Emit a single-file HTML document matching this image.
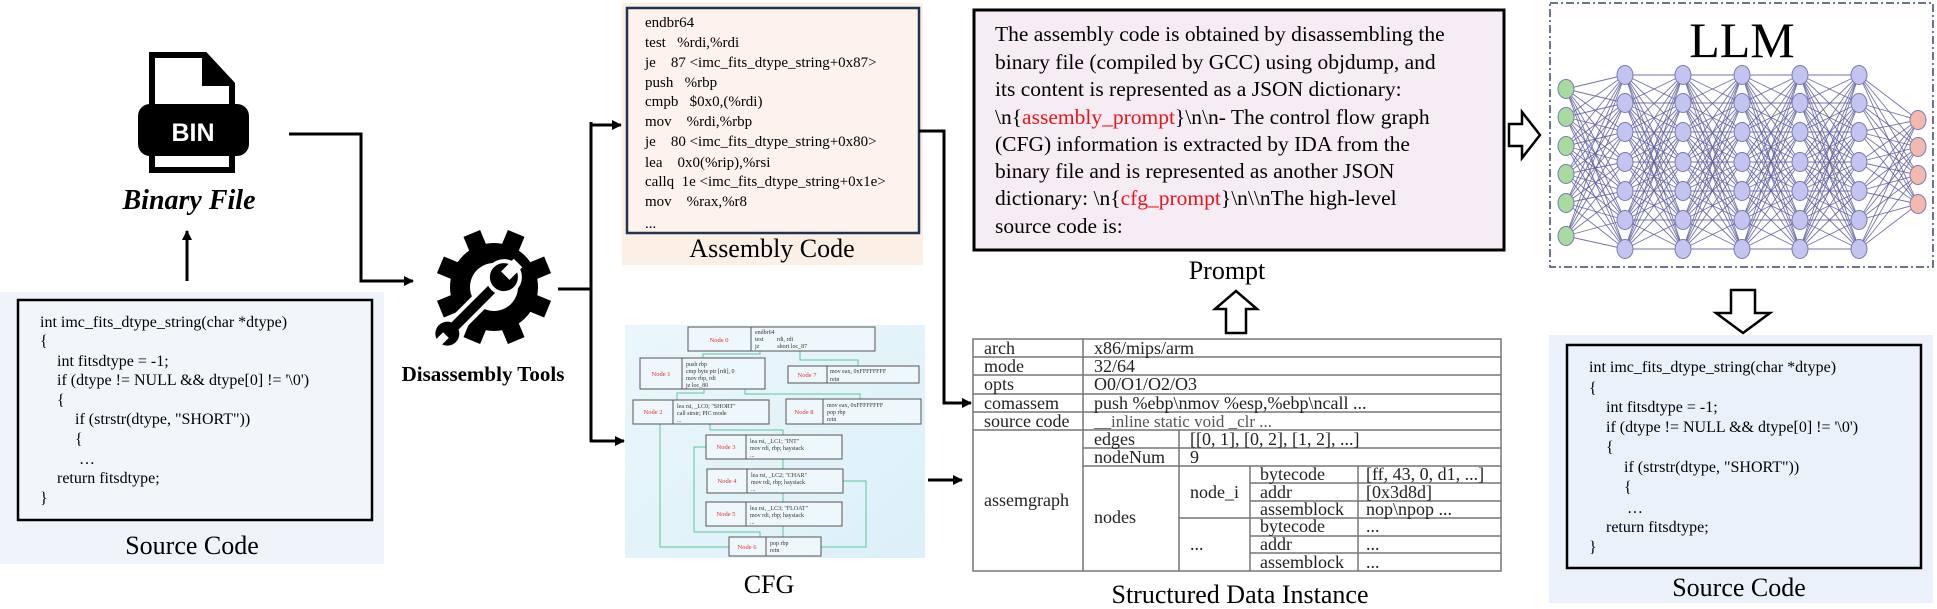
<!DOCTYPE html>
<html><head><meta charset="utf-8"><style>
html,body{margin:0;padding:0;background:#fff;}
svg{display:block;}
text{font-family:"Liberation Serif",serif;}
.s{font-family:"Liberation Sans",sans-serif;}
</style></head><body>
<svg id="sv" width="1937" height="609" viewBox="0 0 1937 609" xmlns="http://www.w3.org/2000/svg">
<defs>
<marker id="ah" markerWidth="10" markerHeight="10" refX="9" refY="5" orient="auto" markerUnits="userSpaceOnUse"><path d="M0,0 L10,5 L0,10 z" fill="#000"/></marker>
</defs>
<!-- left source code -->
<rect x="0" y="292" width="384" height="272" fill="#eef4f9"/>
<rect x="18" y="300" width="354" height="220" fill="#f1f6fa" stroke="#000" stroke-width="2.5"/>
<g font-size="16">
<text x="40" y="327">int imc_fits_dtype_string(char *dtype)</text>
<text x="40" y="346">{</text>
<text x="57" y="366">int fitsdtype = -1;</text>
<text x="57" y="385">if (dtype != NULL &amp;&amp; dtype[0] != '\0')</text>
<text x="57" y="405">{</text>
<text x="75" y="424">if (strstr(dtype, "SHORT"))</text>
<text x="75" y="444">{</text>
<text x="79" y="464">…</text>
<text x="57" y="483">return fitsdtype;</text>
<text x="40" y="503">}</text>
</g>
<text x="192" y="554" font-size="26" text-anchor="middle">Source Code</text>
<!-- BIN icon -->
<path d="M152,55 L205,55 L232,84 L232,170 L152,170 Z" fill="#fff" stroke="#000" stroke-width="6"/>
<path d="M202,55 L232,86 L202,86 Z" fill="#000"/>
<rect x="138" y="104" width="111" height="52" rx="12" fill="#000"/>
<text x="193" y="141" class="s" font-size="25" font-weight="bold" fill="#fff" text-anchor="middle" font-family="Liberation Sans">BIN</text>
<text x="189" y="209" font-family="Liberation Sans" font-size="28" font-weight="bold" font-style="italic" text-anchor="middle">Binary File</text>
<line x1="187" y1="281" x2="187" y2="231" stroke="#000" stroke-width="3" marker-end="url(#ah)"/>
<polyline points="289,134 361,134 361,281 413,281" fill="none" stroke="#000" stroke-width="3" marker-end="url(#ah)"/>
<!-- gear -->
<g id="gear" transform="translate(494,287)"></g>
<text x="483" y="381" font-size="21" font-weight="bold" text-anchor="middle">Disassembly Tools</text>
<polyline points="558,289 591,289" fill="none" stroke="#000" stroke-width="3"/>
<line x1="591" y1="122" x2="591" y2="442" stroke="#000" stroke-width="3"/>
<polyline points="590,125 621,125" fill="none" stroke="#000" stroke-width="3" marker-end="url(#ah)"/>
<polyline points="590,441 624,441" fill="none" stroke="#000" stroke-width="3" marker-end="url(#ah)"/>
<!-- assembly -->
<rect x="622" y="3" width="301" height="262" fill="#fcefe6"/>
<rect x="627" y="8" width="292" height="225" fill="#fdf2ec" stroke="#1f3352" stroke-width="2.5"/>
<g font-size="15">
<text x="645" y="27">endbr64</text>
<text x="645" y="47">test&#160;&#160; %rdi,%rdi</text>
<text x="645" y="67">je&#160;&#160;&#160; 87 &lt;imc_fits_dtype_string+0x87&gt;</text>
<text x="645" y="87">push&#160;&#160; %rbp</text>
<text x="645" y="106">cmpb&#160;&#160; $0x0,(%rdi)</text>
<text x="645" y="126">mov&#160;&#160;&#160; %rdi,%rbp</text>
<text x="645" y="146">je&#160;&#160;&#160; 80 &lt;imc_fits_dtype_string+0x80&gt;</text>
<text x="645" y="167">lea&#160;&#160;&#160; 0x0(%rip),%rsi</text>
<text x="645" y="186">callq&#160; 1e &lt;imc_fits_dtype_string+0x1e&gt;</text>
<text x="645" y="206">mov&#160;&#160;&#160; %rax,%r8</text>
<text x="645" y="228">...</text>
</g>
<text x="772" y="257" font-size="26" text-anchor="middle">Assembly Code</text>
<polyline points="919,131 944,131 944,403 971,403" fill="none" stroke="#000" stroke-width="3" marker-end="url(#ah)"/>
<!-- CFG -->
<defs><linearGradient id="cg" x1="0" y1="0" x2="1" y2="1"><stop offset="0" stop-color="#eaf6fb"/><stop offset="1" stop-color="#dcf0fa"/></linearGradient></defs>
<rect x="625" y="325" width="300" height="233" fill="url(#cg)"/>
<g stroke="#5cc99a" stroke-width="1" fill="none">
<polyline points="760,351 760,354 703,354 703,358"/>
<polyline points="800,351 800,360 858,360 858,366"/>
<polyline points="704,389 704,393 677,393 677,400"/>
<polyline points="745,389 745,394 860,394 860,399"/>
<polyline points="710,424 710,430 783,430 783,435"/>
<polyline points="660,424 660,547 729,547"/>
<polyline points="783,459 783,469"/>
<polyline points="783,493 783,502"/>
<polyline points="783,526 783,537"/>
<polyline points="706,447 694,447 694,532 760,532 760,537"/>
<polyline points="843,481 866,481 866,547 821,547"/>
</g>
<g stroke="#555" stroke-width="1" fill="#eef7fb">
<rect x="688" y="327" width="187" height="24"/><line x1="751" y1="327" x2="751" y2="351"/>
<rect x="640" y="358" width="125" height="31"/><line x1="682" y1="358" x2="682" y2="389"/>
<rect x="788" y="366" width="131" height="17"/><line x1="827" y1="366" x2="827" y2="383"/>
<rect x="633" y="400" width="136" height="24"/><line x1="673" y1="400" x2="673" y2="424"/>
<rect x="786" y="399" width="135" height="25"/><line x1="823" y1="399" x2="823" y2="424"/>
<rect x="706" y="435" width="136" height="24"/><line x1="746" y1="435" x2="746" y2="459"/>
<rect x="707" y="469" width="136" height="24"/><line x1="747" y1="469" x2="747" y2="493"/>
<rect x="706" y="502" width="136" height="24"/><line x1="746" y1="502" x2="746" y2="526"/>
<rect x="729" y="537" width="92" height="19"/><line x1="766" y1="537" x2="766" y2="556"/>
</g>
<g font-size="6.5" fill="#e03030" text-anchor="middle">
<text x="719" y="342">Node 0</text><text x="661" y="376">Node 1</text><text x="807" y="377">Node 7</text>
<text x="653" y="414">Node 2</text><text x="804" y="414">Node 8</text><text x="726" y="449">Node 3</text>
<text x="727" y="483">Node 4</text><text x="726" y="516">Node 5</text><text x="747" y="549">Node 6</text>
</g>
<g font-size="6" fill="#333">
<text x="755" y="334">endbr64</text><text x="755" y="341">test&#160;&#160;&#160;&#160;&#160;&#160;&#160;&#160; rdi, rdi</text><text x="755" y="348">jz&#160;&#160;&#160;&#160;&#160;&#160;&#160;&#160;&#160;&#160;&#160; short loc_87</text>
<text x="686" y="366">push rbp</text><text x="686" y="373">cmp byte ptr [rdi], 0</text><text x="686" y="380">mov rbp, rdi</text><text x="686" y="387">jz loc_80</text>
<text x="830" y="373">mov eax, 0xFFFFFFFF</text><text x="830" y="381">retn</text>
<text x="677" y="408">lea rsi, _LC0; "SHORT"</text><text x="677" y="415">call strstr; PIC mode</text><text x="677" y="422">...</text>
<text x="827" y="407">mov eax, 0xFFFFFFFF</text><text x="827" y="414">pop rbp</text><text x="827" y="421">retn</text>
<text x="750" y="443">lea rsi, _LC1; "INT"</text><text x="750" y="450">mov rdi, rbp; haystack</text><text x="750" y="457">...</text>
<text x="751" y="477">lea rsi, _LC2; "CHAR"</text><text x="751" y="484">mov rdi, rbp; haystack</text><text x="751" y="491">...</text>
<text x="750" y="510">lea rsi, _LC3; "FLOAT"</text><text x="750" y="517">mov rdi, rbp; haystack</text><text x="750" y="524">...</text>
<text x="770" y="545">pop rbp</text><text x="770" y="552">retn</text>
</g>
<text x="769" y="593" font-size="26" text-anchor="middle">CFG</text>
<line x1="928" y1="480" x2="962" y2="480" stroke="#000" stroke-width="3" marker-end="url(#ah)"/>
<!-- Prompt -->
<rect x="974" y="10" width="530" height="240" fill="#f6ecf4" stroke="#000" stroke-width="3"/>
<g font-size="21.5">
<text x="995" y="41">The assembly code is obtained by disassembling the</text>
<text x="995" y="69">binary file (compiled by GCC) using objdump, and</text>
<text x="995" y="96">its content is represented as a JSON dictionary:</text>
<text x="995" y="124">\n{<tspan fill="#e8141c">assembly_prompt</tspan>}\n\n- The control flow graph</text>
<text x="995" y="151">(CFG) information is extracted by IDA from the</text>
<text x="995" y="178">binary file and is represented as another JSON</text>
<text x="995" y="205">dictionary: \n{<tspan fill="#e8141c">cfg_prompt</tspan>}\n\\nThe high-level</text>
<text x="995" y="233">source code is:</text>
</g>
<text x="1227" y="279" font-size="26" text-anchor="middle">Prompt</text>
<path d="M1236,291 L1257,309 L1246,309 L1246,333 L1226,333 L1226,309 L1215,309 Z" fill="#fff" stroke="#000" stroke-width="2.5"/>
<path d="M1540,135 L1522,112 L1522,124 L1509,124 L1509,146 L1522,146 L1522,158 Z" fill="#fff" stroke="#000" stroke-width="2.5"/>
<!-- table -->
<g stroke="#777" stroke-width="1.5" fill="none">
<rect x="973" y="339" width="528" height="232"/>
<line x1="973" y1="357" x2="1501" y2="357"/><line x1="973" y1="375" x2="1501" y2="375"/>
<line x1="973" y1="394" x2="1501" y2="394"/><line x1="973" y1="412" x2="1501" y2="412"/>
<line x1="973" y1="430" x2="1501" y2="430"/>
<line x1="1083" y1="339" x2="1083" y2="571"/>
<line x1="1083" y1="448" x2="1501" y2="448"/><line x1="1083" y1="466" x2="1501" y2="466"/>
<line x1="1179" y1="430" x2="1179" y2="571"/>
<line x1="1250" y1="466" x2="1250" y2="571"/>
<line x1="1358" y1="466" x2="1358" y2="571"/>
<line x1="1179" y1="518" x2="1501" y2="518"/>
<line x1="1250" y1="483" x2="1501" y2="483"/><line x1="1250" y1="501" x2="1501" y2="501"/>
<line x1="1250" y1="536" x2="1501" y2="536"/><line x1="1250" y1="553" x2="1501" y2="553"/>
</g>
<g font-size="18" fill="#222">
<text x="984" y="354">arch</text><text x="1094" y="354">x86/mips/arm</text>
<text x="984" y="372">mode</text><text x="1094" y="372">32/64</text>
<text x="984" y="390">opts</text><text x="1094" y="390">O0/O1/O2/O3</text>
<text x="984" y="409">comassem</text><text x="1094" y="409">push %ebp\nmov %esp,%ebp\ncall ...</text>
<text x="984" y="427">source code</text>
<text x="1094" y="427" font-family="Liberation Mono" font-size="17" fill="#555">__inline static void _clr ...</text>
<text x="984" y="506">assemgraph</text>
<text x="1094" y="445">edges</text><text x="1190" y="445">[[0, 1], [0, 2], [1, 2], ...]</text>
<text x="1094" y="463">nodeNum</text><text x="1190" y="463">9</text>
<text x="1094" y="523">nodes</text>
<text x="1190" y="498">node_i</text><text x="1190" y="550">...</text>
<text x="1260" y="480">bytecode</text><text x="1366" y="480">[ff, 43, 0, d1, ...]</text>
<text x="1260" y="498">addr</text><text x="1366" y="498">[0x3d8d]</text>
<text x="1260" y="515">assemblock</text><text x="1366" y="515">nop\npop ...</text>
<text x="1260" y="532">bytecode</text><text x="1366" y="532">...</text>
<text x="1260" y="550">addr</text><text x="1366" y="550">...</text>
<text x="1260" y="568">assemblock</text><text x="1366" y="568">...</text>
</g>
<text x="1240" y="603" font-size="26" text-anchor="middle">Structured Data Instance</text>
<!-- LLM -->
<rect x="1550" y="3" width="383" height="264" fill="#fff" stroke="#3b4a66" stroke-width="1.5" stroke-dasharray="8,3,2,3"/>
<text x="1742" y="57" font-size="50" text-anchor="middle">LLM</text>
<g id="nn"></g>
<path d="M1743,333 L1770,313 L1755,313 L1755,290 L1731,290 L1731,313 L1716,313 Z" fill="#fff" stroke="#000" stroke-width="2.5"/>
<!-- right source code -->
<rect x="1549" y="335" width="384" height="268" fill="#eaf1fb"/>
<rect x="1567" y="345" width="354" height="223" fill="#eaf1fb" stroke="#000" stroke-width="2.5"/>
<g font-size="16">
<text x="1589" y="372">int imc_fits_dtype_string(char *dtype)</text>
<text x="1589" y="393">{</text>
<text x="1606" y="412">int fitsdtype = -1;</text>
<text x="1606" y="432">if (dtype != NULL &amp;&amp; dtype[0] != '\0')</text>
<text x="1606" y="452">{</text>
<text x="1624" y="472">if (strstr(dtype, "SHORT"))</text>
<text x="1624" y="492">{</text>
<text x="1627" y="513">…</text>
<text x="1606" y="532">return fitsdtype;</text>
<text x="1589" y="552">}</text>
</g>
<text x="1739" y="596" font-size="26" text-anchor="middle">Source Code</text>
</svg>
<script>
(function(){
var NS="http://www.w3.org/2000/svg";
function el(t,a,p){var e=document.createElementNS(NS,t);for(var k in a)e.setAttribute(k,a[k]);p.appendChild(e);return e;}
var g=document.getElementById('gear');
for(var i=0;i<8;i++){el('rect',{x:-9,y:-58,width:18,height:22,transform:'rotate('+(i*45+22.5)+')',fill:'#000'},g);}
el('circle',{cx:0,cy:0,r:44,fill:'#000'},g);
el('circle',{cx:0,cy:0,r:24,fill:'#fff'},g);
var w=el('g',{transform:'rotate(45)'},g);
el('rect',{x:-7,y:-8,width:14,height:70,fill:'#000',stroke:'#fff','stroke-width':4},w);
el('circle',{cx:0,cy:-14,r:16,fill:'#000',stroke:'#fff','stroke-width':4},w);
el('rect',{x:-6,y:-34,width:12,height:18,fill:'#fff'},w);
el('circle',{cx:0,cy:66,r:12,fill:'#000'},w);
el('rect',{x:-4,y:68,width:8,height:14,fill:'#fff'},w);
var nn=document.getElementById('nn');
var cols=[{x:1566,ys:[89,117,146,174,203,236],c:'#a8dba0'}];
var hx=[1625,1683,1742,1800,1859];
hx.forEach(function(x){cols.push({x:x,ys:[75,103,132,162,191,220,249],c:'#c4c4f0'});});
cols.push({x:1918,ys:[120,147,175,204],c:'#f3b8b0'});
for(var c=0;c<cols.length-1;c++){var A=cols[c],B=cols[c+1];
 A.ys.forEach(function(y1){B.ys.forEach(function(y2){el('line',{x1:A.x,y1:y1,x2:B.x,y2:y2,stroke:'#5a5aa0','stroke-width':0.9,'stroke-opacity':0.85},nn);});});}
cols.forEach(function(C){C.ys.forEach(function(y){el('ellipse',{cx:C.x,cy:y,rx:8,ry:9.5,fill:C.c,stroke:'#7a7ab0','stroke-width':1},nn);});});
})();
</script>
</body></html>
